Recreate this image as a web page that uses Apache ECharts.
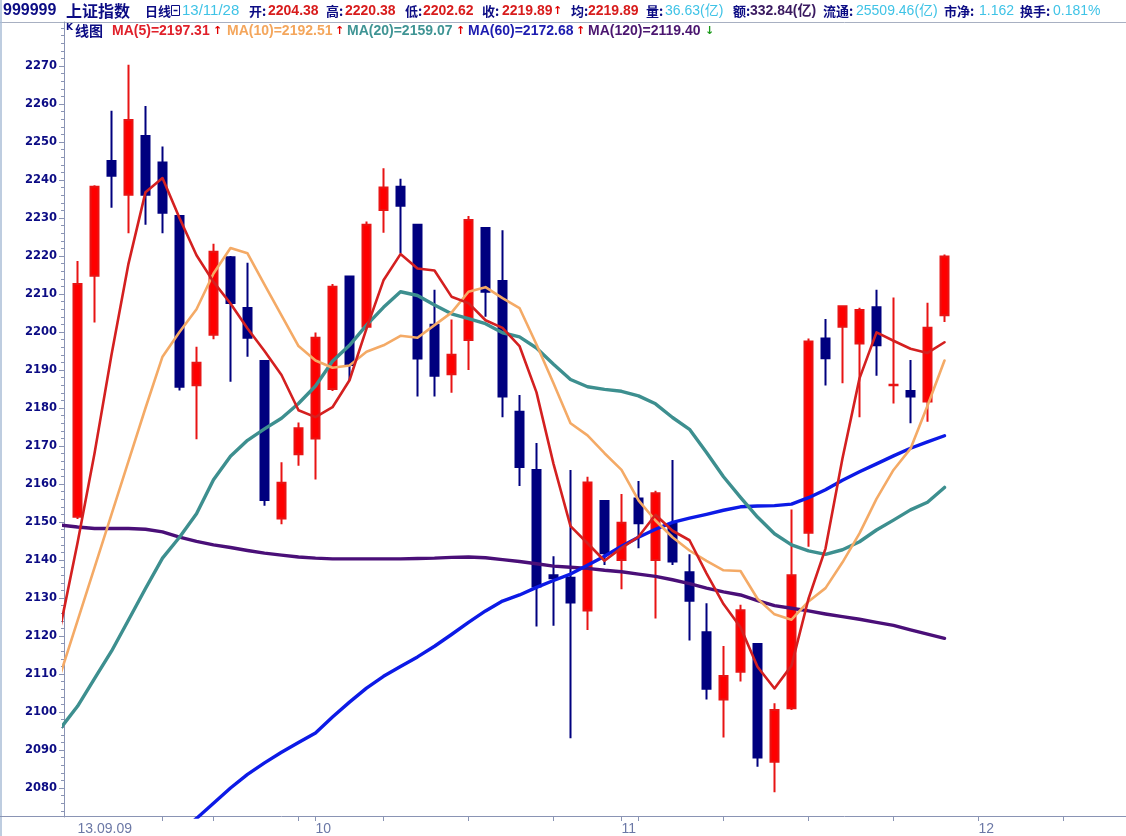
<!DOCTYPE html>
<html><head><meta charset="utf-8">
<script src="https://cdn.jsdelivr.net/npm/echarts@6/dist/echarts.min.js"></script>
<style>html,body{margin:0;padding:0;background:#fff}#c{width:1126px;height:836px}</style>
</head><body><div id="c"></div><script>
// ---- data ----
const dates = [
 '2013-09-09','2013-09-10','2013-09-11','2013-09-12','2013-09-13','2013-09-16','2013-09-17','2013-09-18','2013-09-23','2013-09-24','2013-09-25','2013-09-26','2013-09-27','2013-09-30',
 '2013-10-08','2013-10-09','2013-10-10','2013-10-11','2013-10-14','2013-10-15','2013-10-16','2013-10-17','2013-10-18','2013-10-21','2013-10-22','2013-10-23','2013-10-24','2013-10-25','2013-10-28','2013-10-29','2013-10-30','2013-10-31',
 '2013-11-01','2013-11-04','2013-11-05','2013-11-06','2013-11-07','2013-11-08','2013-11-11','2013-11-12','2013-11-13','2013-11-14','2013-11-15','2013-11-18','2013-11-19','2013-11-20','2013-11-21','2013-11-22','2013-11-25','2013-11-26','2013-11-27','2013-11-28',
 '2013-11-29','2013-12-02','2013-12-03','2013-12-04','2013-12-05','2013-12-06','2013-12-09','2013-12-10','2013-12-11','2013-12-12'
];
const opens  = [2151.4,2214.8,2245.0,2236.1,2251.6,2244.6,2230.5,2186.0,2199.3,2219.7,2206.3,2192.4,2150.9,2167.8,2172.0,2185.0,2214.6,2201.4,2232.1,2238.2,2228.2,2201.9,2188.9,2197.9,2227.4,2213.4,2179.0,2163.7,2136.0,2135.3,2126.7,2155.5,2140.0,2156.2,2140.0,2149.5,2136.8,2121.0,2103.3,2110.6,2117.9,2086.9,2101.0,2147.2,2198.3,2201.4,2197.0,2206.5,2186.0,2184.5,2181.7,2204.38];
const closes = [2212.6,2238.2,2241.1,2255.8,2236.1,2231.4,2185.6,2191.9,2221.1,2207.6,2198.5,2155.8,2160.3,2174.7,2198.5,2211.9,2191.3,2228.2,2238.0,2233.2,2193.0,2188.5,2194.0,2229.5,2210.6,2183.0,2164.5,2133.0,2135.2,2128.8,2160.4,2141.8,2149.8,2149.7,2157.6,2139.6,2129.3,2106.1,2109.5,2126.8,2088.0,2100.5,2136.0,2197.5,2193.1,2206.8,2205.8,2196.5,2186.1,2183.0,2201.1,2219.89];
const lows   = [2150.8,2202.5,2232.7,2226.0,2228.2,2226.0,2184.6,2171.8,2198.1,2186.9,2193.5,2154.3,2149.4,2164.8,2161.2,2184.5,2187.4,2201.0,2226.1,2220.7,2183.0,2183.0,2184.0,2190.0,2204.0,2177.6,2159.5,2122.5,2122.7,2093.1,2121.6,2138.7,2132.3,2143.1,2124.6,2138.7,2118.8,2103.3,2093.3,2108.0,2085.6,2078.9,2100.5,2143.5,2185.9,2186.5,2177.6,2188.5,2181.2,2176.0,2176.4,2202.62];
const highs  = [2218.7,2238.6,2258.2,2270.3,2259.5,2248.8,2230.6,2196.1,2223.2,2220.0,2218.2,2192.5,2165.7,2176.2,2199.9,2212.6,2214.7,2229.1,2243.1,2240.3,2228.3,2211.1,2203.3,2230.5,2227.5,2226.8,2183.4,2170.8,2141.0,2163.7,2161.9,2155.6,2157.4,2160.8,2158.2,2166.3,2141.5,2128.6,2117.4,2128.2,2118.0,2102.3,2153.3,2198.3,2203.4,2207.0,2206.4,2211.1,2209.1,2192.6,2207.7,2220.38];
// moving averages: first value = the day before the first visible candle
const ma5   = [2122.5,2144.5,2168.0,2194.0,2218.0,2236.8,2240.5,2230.0,2220.2,2213.2,2207.5,2200.9,2195.0,2188.7,2179.4,2177.6,2180.2,2187.3,2200.9,2213.6,2220.5,2216.7,2216.2,2209.3,2207.6,2203.1,2201.1,2196.3,2184.1,2165.3,2148.9,2144.4,2139.8,2143.2,2146.1,2151.9,2147.7,2145.2,2136.5,2128.4,2122.3,2111.9,2106.2,2112.2,2129.8,2143.0,2166.8,2187.8,2199.9,2197.7,2195.6,2194.5,2197.3];
const ma10  = [2110.0,2124.0,2138.0,2152.0,2166.0,2180.0,2193.5,2200.0,2206.0,2215.4,2222.1,2220.7,2212.5,2204.4,2196.3,2192.5,2190.6,2191.2,2194.8,2196.5,2199.0,2198.5,2201.8,2205.1,2210.6,2211.8,2208.9,2206.3,2196.7,2186.5,2176.0,2172.8,2168.1,2163.7,2155.7,2150.4,2146.0,2142.5,2139.8,2137.3,2137.1,2129.8,2125.7,2124.3,2129.1,2132.6,2139.4,2147.0,2156.1,2163.7,2169.3,2180.6,2192.5];
const ma20  = [2095.7,2101.5,2108.8,2116.0,2124.2,2132.5,2140.5,2146.0,2152.2,2161.1,2167.3,2171.5,2174.5,2177.3,2181.2,2185.8,2192.3,2196.5,2201.8,2206.5,2210.6,2209.6,2207.1,2204.8,2203.5,2202.2,2199.8,2198.7,2195.8,2191.5,2187.5,2185.6,2184.9,2184.4,2183.2,2181.1,2177.5,2174.4,2168.3,2161.9,2156.5,2151.3,2146.9,2144.0,2142.4,2141.5,2142.7,2144.8,2147.9,2150.5,2153.2,2155.2,2159.1];
const ma60  = [null,null,null,null,null,null,null,2068.2,2072.0,2076.0,2080.0,2083.6,2086.6,2089.4,2092.0,2094.5,2098.7,2102.6,2106.3,2109.4,2112.0,2114.5,2117.3,2120.4,2123.6,2126.6,2129.2,2130.8,2132.8,2134.6,2136.3,2138.6,2141.0,2143.6,2146.0,2148.1,2149.9,2151.0,2152.0,2153.1,2154.0,2154.2,2154.3,2154.7,2156.4,2158.5,2161.0,2163.2,2165.3,2167.4,2169.4,2171.1,2172.7];
const ma120 = [2149.2,2148.7,2148.3,2148.3,2148.3,2148.1,2147.4,2146.0,2144.9,2144.0,2143.3,2142.5,2141.8,2141.3,2140.8,2140.5,2140.3,2140.3,2140.3,2140.3,2140.3,2140.4,2140.5,2140.7,2140.8,2140.6,2140.1,2139.6,2139.0,2138.4,2138.1,2137.8,2137.3,2136.9,2136.3,2135.7,2134.8,2133.8,2132.6,2131.6,2130.8,2129.3,2128.0,2127.3,2126.6,2125.8,2125.1,2124.4,2123.6,2122.8,2121.6,2120.5,2119.4];
const yTickLabels = [2080,2090,2100,2110,2120,2130,2140,2150,2160,2170,2180,2190,2200,2210,2220,2230,2240,2250,2260,2270];
const yMinorTicks = [];
for (let v = 2074; v <= 2280; v += 2) yMinorTicks.push(v);

// ---- chart ----
const Y_MIN = 2072.37, Y_MAX = 2281.58;
const ohlc = opens.map((o, i) => [o, closes[i], lows[i], highs[i]]);
const dow = s => new Date(s + 'T00:00:00Z').getUTCDay();
const monthStart = i => i === 0 || dates[i].slice(5, 7) !== dates[i - 1].slice(5, 7);
const weekStart = i => i > 0 && dow(dates[i]) < dow(dates[i - 1]);
const asLine = arr => arr.map((v, k) => [k - 1, v]);

const axisCol = '#8a94b4';
const navy = '#0c0c84';
const cyan = '#3fc3e6';
const red = '#d81c1c';
const F = 'Liberation Sans, Noto Sans CJK SC, sans-serif';
const CJK = 'Noto Sans CJK SC, sans-serif';

function txt(x, y, text, color, size, opt) {
  opt = opt || {};
  return { type: 'text', x: x, y: y, silent: true, style: {
    text: text, fill: color, font: (opt.bold ? 'bold ' : '') + size + 'px ' + (opt.family || F),
    textVerticalAlign: 'middle', textAlign: 'left' } };
}

const R1 = 11, R2 = 31;
const graphics = [
  { type: 'line', silent: true, shape: { x1: 0, y1: 22.5, x2: 1126, y2: 22.5 }, style: { stroke: '#a8b0c2', lineWidth: 1 } },
  { type: 'line', silent: true, shape: { x1: 1, y1: 0, x2: 1, y2: 836 }, style: { stroke: '#a9bcd6', lineWidth: 1.5 } },
  { type: 'line', silent: true, shape: { x1: 0, y1: 816.5, x2: 1126, y2: 816.5 }, style: { stroke: axisCol, lineWidth: 1 } },
  txt(3, R1, '999999', navy, 16, { bold: true }),
  txt(66, R1, '上证指数', navy, 16, { family: CJK, bold: true }),
  txt(145, R1, '日线', navy, 13, { family: CJK, bold: true }),
  { type: 'rect', silent: true, shape: { x: 171.5, y: 5.5, width: 8, height: 10 }, style: { fill: '#fff', stroke: navy, lineWidth: 1 } },
  { type: 'line', silent: true, shape: { x1: 173.5, y1: 10.5, x2: 177.5, y2: 10.5 }, style: { stroke: navy, lineWidth: 1.5 } },
  txt(182, R1, '13/11/28', cyan, 15),
  txt(249, R1, '开:', navy, 13, { family: CJK, bold: true }),
  txt(268, R1, '2204.38', red, 14, { bold: true }),
  txt(326, R1, '高:', navy, 13, { family: CJK, bold: true }),
  txt(345, R1, '2220.38', red, 14, { bold: true }),
  txt(405, R1, '低:', navy, 13, { family: CJK, bold: true }),
  txt(423, R1, '2202.62', red, 14, { bold: true }),
  txt(482, R1, '收:', navy, 13, { family: CJK, bold: true }),
  txt(502, R1, '2219.89', red, 14, { bold: true }),
  txt(553, R1, '↑', '#e00000', 11, { bold: true, family: 'DejaVu Sans' }),
  txt(571, R1, '均:', navy, 13, { family: CJK, bold: true }),
  txt(588, R1, '2219.89', red, 14, { bold: true }),
  txt(646, R1, '量:', navy, 13, { family: CJK, bold: true }),
  txt(665, R1, '36.63(亿)', cyan, 14),
  txt(733, R1, '额:', navy, 13, { family: CJK, bold: true }),
  txt(750, R1, '332.84(亿)', '#3a1a60', 14, { bold: true }),
  txt(823, R1, '流通:', navy, 13, { family: CJK, bold: true }),
  txt(856, R1, '25509.46(亿)', cyan, 14),
  txt(944, R1, '市净:', navy, 13, { family: CJK, bold: true }),
  txt(979, R1, '1.162', cyan, 14),
  txt(1020, R1, '换手:', navy, 13, { family: CJK, bold: true }),
  txt(1053, R1, '0.181%', cyan, 14),
  // legend row
  txt(66, R2 - 3, 'K', navy, 9, { bold: true, family: 'DejaVu Sans' }),
  txt(75, R2, '线图', navy, 14, { family: CJK, bold: true }),
  txt(112, R2, 'MA(5)=2197.31', '#e0202a', 14, { bold: true }),
  txt(213, R2, '↑', '#e00000', 11, { bold: true, family: 'DejaVu Sans' }),
  txt(227, R2, 'MA(10)=2192.51', '#f4a65c', 14, { bold: true }),
  txt(335, R2, '↑', '#e00000', 11, { bold: true, family: 'DejaVu Sans' }),
  txt(347, R2, 'MA(20)=2159.07', '#3f9494', 14, { bold: true }),
  txt(456, R2, '↑', '#e00000', 11, { bold: true, family: 'DejaVu Sans' }),
  txt(468, R2, 'MA(60)=2172.68', '#1c1cb0', 14, { bold: true }),
  txt(576, R2, '↑', '#e00000', 11, { bold: true, family: 'DejaVu Sans' }),
  txt(588, R2, 'MA(120)=2119.40', '#4b1670', 14, { bold: true }),
  txt(705, R2, '↓', '#1a9a1a', 11, { bold: true, family: 'DejaVu Sans' })
];

const lineS = (name, data, color, width) => ({
  name: name, type: 'line', xAxisIndex: 1, yAxisIndex: 1, data: asLine(data),
  showSymbol: false, symbol: 'none', smooth: false, silent: true, connectNulls: false,
  lineStyle: { color: color, width: width, join: 'round', cap: 'round' }, z: 3
});

const option = {
  animation: false,
  backgroundColor: '#ffffff',
  grid: [
    { left: 69, right: 3, top: 22, bottom: 19 },
    { left: 64, right: 3, top: 22, bottom: 19 }
  ],
  xAxis: [
    { type: 'category', gridIndex: 0, data: dates, boundaryGap: true,
      axisLine: { show: false, onZero: false },
      axisTick: { show: true, alignWithLabel: true, length: 4, inside: false,
        interval: i => weekStart(i) || (monthStart(i) && i > 0),
        lineStyle: { color: axisCol, width: 1 } },
      axisLabel: { show: true, align: 'left', margin: 5, color: '#6b78a6',
        fontFamily: 'Liberation Sans', fontSize: 14,
        interval: i => monthStart(i),
        formatter: (v, i) => i === 0 ? v.slice(2).replace(/-/g, '.') : v.slice(5, 7) },
      splitLine: { show: false } },
    { type: 'value', gridIndex: 1, min: -0.5 - 5 / 17, max: 61.5, show: false,
      axisLine: { onZero: false } }
  ],
  yAxis: [
    { type: 'value', gridIndex: 0, min: Y_MIN, max: Y_MAX, show: false, axisLine: { onZero: false } },
    { type: 'value', gridIndex: 1, min: Y_MIN, max: Y_MAX, position: 'left',
      axisLine: { show: true, onZero: false, lineStyle: { color: axisCol, width: 1 } },
      axisTick: { show: true, length: 5, customValues: yTickLabels, lineStyle: { color: axisCol } },
      axisLabel: { show: true, customValues: yTickLabels, margin: 7, color: navy,
        fontFamily: 'DejaVu Sans', fontWeight: 'bold', fontSize: 11.5,
        formatter: v => String(Math.round(v)) },
      splitLine: { show: false } },
    { type: 'value', gridIndex: 1, min: Y_MIN, max: Y_MAX, position: 'left',
      axisLine: { show: false, onZero: false },
      axisTick: { show: true, length: 3, customValues: yMinorTicks, lineStyle: { color: axisCol } },
      axisLabel: { show: false },
      splitLine: { show: false } }
  ],
  series: [
    { type: 'candlestick', xAxisIndex: 0, yAxisIndex: 0, data: ohlc, barWidth: 9, silent: true,
      itemStyle: { color: '#ff0000', color0: '#00007f', borderColor: '#e81414', borderColor0: '#00007f', borderWidth: 2 }, z: 2 },
    lineS('MA120', ma120, '#4a0f78', 3.4),
    lineS('MA60', ma60, '#0c1ae6', 3.4),
    lineS('MA20', ma20, '#3d8f8f', 3.4),
    lineS('MA10', ma10, '#f4aa66', 2.6),
    lineS('MA5', ma5, '#d42020', 2.6)
  ],
  graphic: graphics
};

const chart = echarts.init(document.getElementById('c'), null, { renderer: 'canvas' });
chart.setOption(option);
</script></body></html>
